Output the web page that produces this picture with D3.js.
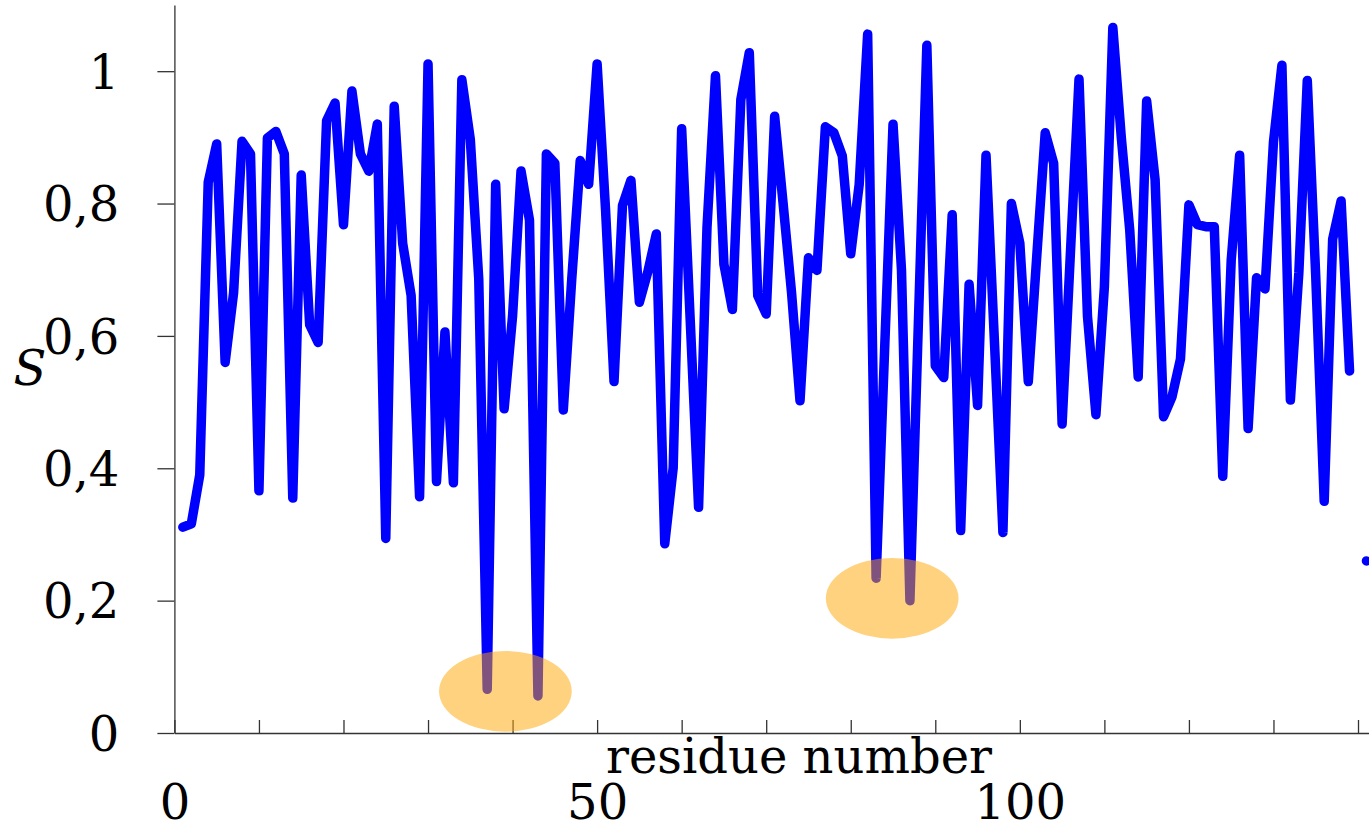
<!DOCTYPE html>
<html>
<head>
<meta charset="utf-8">
<script src="https://cdn.jsdelivr.net/npm/d3@7"></script>
<style>
  html, body { margin: 0; padding: 0; background: #fff; overflow: hidden; }
  svg { display: block; }
  text { font-family: "DejaVu Serif", serif; fill: #000; }
</style>
</head>
<body>
<svg id="chart" width="1369" height="829"></svg>
<script>
// ---- data ----
const residues = d3.range(1, 142);
const orderValues = [
  0.311, 0.316, 0.390, 0.832, 0.890, 0.560, 0.665, 0.894, 0.875, 0.366,
  0.899, 0.909, 0.875, 0.355, 0.843, 0.617, 0.590, 0.925, 0.952, 0.768,
  0.970, 0.875, 0.849, 0.920, 0.294, 0.947, 0.740, 0.661, 0.357, 1.011,
  0.380, 0.606, 0.378, 0.987, 0.897, 0.686, 0.066, 0.829, 0.490, 0.630,
  0.849, 0.775, 0.056, 0.875, 0.861, 0.488, 0.686, 0.865, 0.829, 1.011,
  0.790, 0.531, 0.797, 0.835, 0.651, 0.697, 0.754, 0.286, 0.401, 0.913,
  0.627, 0.341, 0.765, 0.993, 0.708, 0.640, 0.957, 1.028, 0.661, 0.633,
  0.932, 0.800, 0.665, 0.502, 0.718, 0.699, 0.916, 0.907, 0.872, 0.724,
  0.829, 1.056, 0.234, 0.577, 0.920, 0.700, 0.200, 0.620, 1.039, 0.555,
  0.537, 0.783, 0.306, 0.678, 0.495, 0.873, 0.590, 0.303, 0.800, 0.740,
  0.531, 0.720, 0.907, 0.861, 0.467, 0.730, 0.988, 0.630, 0.481, 0.674,
  1.066, 0.900, 0.760, 0.538, 0.955, 0.836, 0.478, 0.508, 0.565, 0.798,
  0.768, 0.765, 0.765, 0.388, 0.714, 0.873, 0.460, 0.688, 0.671, 0.893,
  1.009, 0.503, 0.695, 0.986, 0.690, 0.350, 0.746, 0.804, 0.547, null,
  0.260
];
const xTicks = [0, 10, 20, 30, 40, 50, 60, 70, 80, 90, 100, 110, 120, 130, 140];
const xTickLabels = [0, 50, 100];
const yTicks = [0, 0.2, 0.4, 0.6, 0.8, 1];
// highlighted low-order regions (centre residue, centre S, half-width, half-height)
const highlightX = [39.15, 84.9];
const highlightY = [0.063, 0.2035];
const highlightRx = [7.85, 7.85];
const highlightRy = [0.061, 0.061];

const xLabel = "residue number";
const yLabel = "S";

// ---- layout ----
const svg = d3.select("#chart");
const x = d3.scaleLinear().domain([0, 141.3]).range([174.4, 1369]);
const y = d3.scaleLinear().domain([0, 1.1]).range([733, 5]);

const points = residues.map((r, i) => ({ r, v: orderValues[i] }));

// line
const line = d3.line()
  .defined(d => d.v !== null)
  .x(d => x(d.r))
  .y(d => y(d.v));

// isolated points (neighbours undefined)
const isolated = points.filter((d, i) =>
  d.v !== null &&
  (i === 0 || points[i - 1].v === null) &&
  (i === points.length - 1 || points[i + 1].v === null));

// axes
const fmt = d => d === 0 ? "0" : d === 1 ? "1" : d.toFixed(1).replace(".", ",");

const yAxis = d3.axisLeft(y)
  .tickValues(yTicks)
  .tickSizeInner(17)
  .tickSizeOuter(0)
  .tickPadding(38)
  .tickFormat(fmt);

const xAxis = d3.axisBottom(x)
  .tickValues(xTicks)
  .tickSizeInner(-13)
  .tickSizeOuter(0)
  .tickPadding(52)
  .tickFormat(d => xTickLabels.includes(d) ? String(d) : "");

const gx = svg.append("g").attr("transform", `translate(0,${y(0)})`).call(xAxis);
const gy = svg.append("g").attr("transform", `translate(${x(0)},0)`).call(yAxis);

[gx, gy].forEach(g => {
  g.selectAll("path.domain").attr("stroke", "#333").attr("stroke-width", 1.3);
  g.selectAll(".tick line").attr("stroke", "#333").attr("stroke-width", 1.3);
  g.selectAll(".tick text")
    .style("font-family", '"DejaVu Serif", serif')
    .style("font-size", "48px")
    .attr("fill", "#000");
});
gy.selectAll(".tick text").attr("dy", "0.36em");

// data line
svg.append("path")
  .datum(points)
  .attr("d", line)
  .attr("fill", "none")
  .attr("stroke", "#0000ff")
  .attr("stroke-width", 9.5)
  .attr("stroke-linejoin", "round")
  .attr("stroke-linecap", "round");

svg.selectAll("circle.iso")
  .data(isolated)
  .join("circle")
  .attr("class", "iso")
  .attr("cx", d => x(d.r))
  .attr("cy", d => y(d.v))
  .attr("r", 3)
  .attr("fill", "#0000ff");

// highlight ellipses (drawn on top, semi-transparent)
svg.selectAll("ellipse.hl")
  .data(highlightX.map((cx, i) => ({ cx, cy: highlightY[i], rx: highlightRx[i], ry: highlightRy[i] })))
  .join("ellipse")
  .attr("class", "hl")
  .attr("cx", d => x(d.cx))
  .attr("cy", d => y(d.cy))
  .attr("rx", d => x(d.cx + d.rx) - x(d.cx))
  .attr("ry", d => y(0) - y(d.ry))
  .attr("fill", "rgb(255,165,0)")
  .attr("fill-opacity", 0.5);

// axis titles
svg.append("text")
  .attr("x", 799)
  .attr("y", 773)
  .attr("text-anchor", "middle")
  .style("font-size", "48px")
  .text(xLabel);

svg.append("text")
  .attr("x", 30)
  .attr("y", 385)
  .attr("text-anchor", "middle")
  .style("font-size", "48px")
  .style("font-style", "italic")
  .text(yLabel);
</script>
</body>
</html>
